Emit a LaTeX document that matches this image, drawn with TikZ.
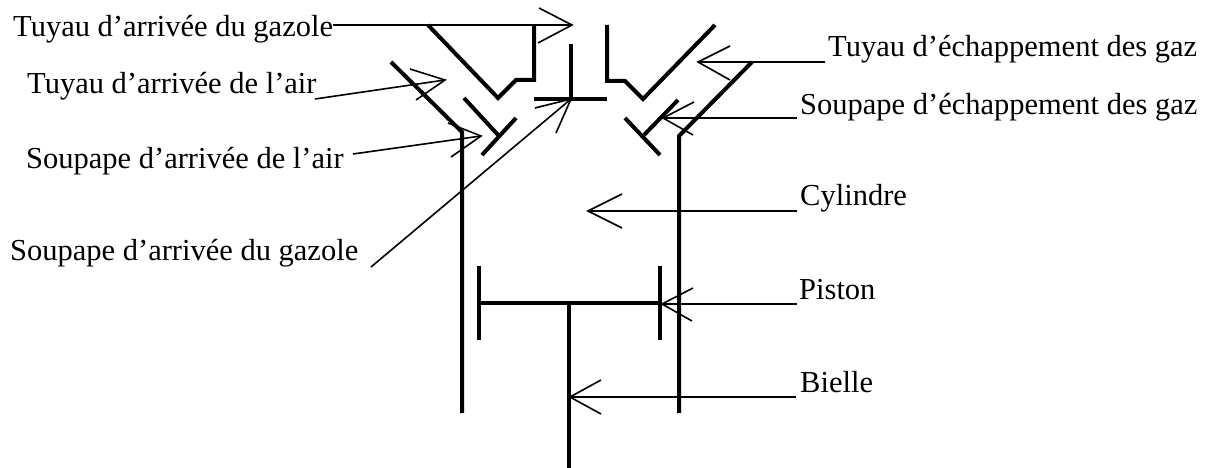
\documentclass[tikz,border=0pt]{standalone}
\usepackage{fontspec}
\setmainfont{Liberation Serif}
\tikzset{
  part/.style={line width=4pt,line join=miter,line cap=butt,black},
  lead/.style={line width=1.6pt,black},
  lab/.style={inner sep=0pt,anchor=base west,font=\fontsize{30.5pt}{32pt}\selectfont}
}
% \leader{free end}{tip}{barb1}{barb2}
\newcommand{\leader}[4]{\draw[lead] (#1) -- (#2); \draw[lead] (#3) -- (#2) -- (#4);}
\begin{document}
\begin{tikzpicture}[x=1pt,y=-1pt]
\useasboundingbox (0,0) rectangle (1205,468);
% labels
\node[lab] (t1) at (13,37) {Tuyau d’arrivée du gazole};
\node[lab] (t2) at (27,94) {Tuyau d’arrivée de l’air};
\node[lab] (t3) at (26,168) {Soupape d’arrivée de l’air};
\node[lab] (t4) at (10,260) {Soupape d’arrivée du gazole};
\node[lab] (t5) at (828,57) {Tuyau d’échappement des gaz};
\node[lab] (t6) at (800,115) {Soupape d’échappement des gaz};
\node[lab] (t7) at (800,205) {Cylindre};
\node[lab] (t8) at (799,299) {Piston};
\node[lab] (t9) at (800,392) {Bielle};
% engine
\draw[part] (428,25) -- (498,98) -- (516,80) -- (534,80) -- (534,25);
\draw[part] (607,25) -- (607,81) -- (625,81) -- (643,99) -- (715,25);
\draw[part] (571,44) -- (571,99);
\draw[part] (534,99) -- (607,99);
\draw[part] (391,62) -- (462,132) -- (462,413);
\draw[part] (464,98) -- (499,136);
\draw[part] (482,155) -- (516,118);
\draw[part] (678,100) -- (644,135);
\draw[part] (625,118) -- (660,155);
\draw[part] (752,62) -- (679,136) -- (679,413);
\draw[part] (479,303) -- (660,303);
\draw[part] (479,266) -- (479,340);
\draw[part] (660,266) -- (660,340);
\draw[part] (569,303) -- (569,468);
% connector anchors
\coordinate (s1) at (333,25); \coordinate (a1) at (572,25);
\coordinate (b1a) at (539,8); \coordinate (b1b) at (538,43);
\coordinate (s2) at (315,99); \coordinate (a2) at (445,80);
\coordinate (b2a) at (410,69); \coordinate (b2b) at (416,100);
\coordinate (s3) at (353,154); \coordinate (a3) at (481,136);
\coordinate (b3a) at (448,123); \coordinate (b3b) at (451,157);
\coordinate (s4) at (371,267); \coordinate (a4) at (571,99);
\coordinate (b4a) at (535,108); \coordinate (b4b) at (556,133);
\coordinate (s5) at (825,62); \coordinate (a5) at (698,62);
\coordinate (b5a) at (730,46); \coordinate (b5b) at (730,80);
\coordinate (s6) at (797,118); \coordinate (a6) at (663,118);
\coordinate (b6a) at (694,102); \coordinate (b6b) at (693,135);
\coordinate (s7) at (797,211); \coordinate (a7) at (588,211);
\coordinate (b7a) at (622,194); \coordinate (b7b) at (622,228);
\coordinate (s8) at (797,304); \coordinate (a8) at (662,304);
\coordinate (b8a) at (693,288); \coordinate (b8b) at (692,321);
\coordinate (s9) at (796,397); \coordinate (a9) at (570,397);
\coordinate (b9a) at (601,380); \coordinate (b9b) at (601,414);
\leader{s1}{a1}{b1a}{b1b}
\leader{s2}{a2}{b2a}{b2b}
\leader{s3}{a3}{b3a}{b3b}
\leader{s4}{a4}{b4a}{b4b}
\leader{s5}{a5}{b5a}{b5b}
\leader{s6}{a6}{b6a}{b6b}
\leader{s7}{a7}{b7a}{b7b}
\leader{s8}{a8}{b8a}{b8b}
\leader{s9}{a9}{b9a}{b9b}
\end{tikzpicture}
\end{document}
